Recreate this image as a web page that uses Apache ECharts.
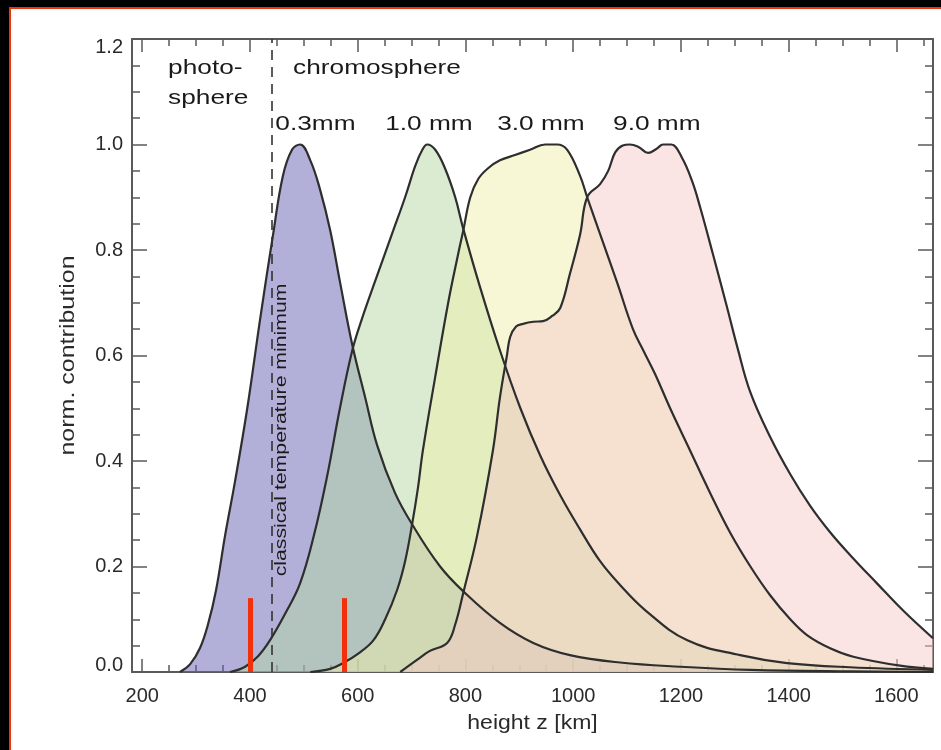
<!DOCTYPE html>
<html>
<head>
<meta charset="utf-8">
<script src="https://cdn.jsdelivr.net/npm/echarts@6/dist/echarts.min.js"></script>
<style>
  html, body { margin: 0; padding: 0; background: #000; }
  #frame {
    position: absolute; left: 9px; top: 7px; width: 932px; height: 743px;
    background: #fff; border-left: 2px solid #ee3311; border-top: 2px solid #ee3311;
    box-sizing: border-box;
  }
  #chart { position: absolute; left: 0; top: 0; width: 941px; height: 750px; }
</style>
</head>
<body>
<div id="frame"></div>
<div id="chart"></div>
<script>
// contribution functions, [height z in km, normalised contribution]
const band03 = [[270,0],[289,0.015],[307,0.045],[322,0.09],[337,0.155],[354,0.26],[372,0.36],[395,0.5],[419,0.67],[443,0.83],[461,0.94],[478,0.99],[493,1.0],[512,0.97],[530,0.915],[549,0.837],[567,0.74],[590,0.62],[614,0.52],[636,0.43],[669,0.34],[701,0.28],[753,0.2],[799,0.15],[864,0.093],[926,0.055],[994,0.032],[1087,0.018],[1199,0.01],[1329,0.004],[1514,0.001],[1668,0]];
const band10 = [[363,0],[391,0.01],[415,0.03],[437,0.06],[465,0.11],[493,0.168],[519,0.26],[543,0.37],[567,0.5],[590,0.61],[608,0.67],[632,0.74],[666,0.837],[688,0.9],[707,0.96],[720,0.99],[729,1.0],[744,0.99],[762,0.955],[781,0.9],[796,0.84],[827,0.73],[864,0.61],[902,0.5],[939,0.41],[976,0.335],[1013,0.27],[1050,0.21],[1087,0.165],[1134,0.117],[1212,0.06],[1310,0.032],[1397,0.017],[1514,0.009],[1668,0.004]];
const band30 = [[512,0],[549,0.006],[573,0.017],[601,0.035],[629,0.06],[651,0.1],[673,0.155],[688,0.21],[701,0.28],[712,0.35],[721,0.42],[744,0.56],[768,0.7],[786,0.79],[796,0.837],[809,0.9],[824,0.935],[842,0.955],[864,0.97],[892,0.98],[920,0.99],[948,1.0],[970,1.0],[989,0.99],[1013,0.94],[1026,0.9],[1050,0.83],[1082,0.737],[1111,0.65],[1130,0.61],[1152,0.565],[1180,0.5],[1217,0.42],[1254,0.34],[1291,0.265],[1329,0.2],[1366,0.145],[1403,0.1],[1434,0.07],[1477,0.045],[1520,0.029],[1607,0.012],[1668,0.006]];
const band90 = [[679,0],[710,0.023],[734,0.04],[766,0.055],[781,0.09],[796,0.15],[822,0.26],[851,0.42],[864,0.52],[877,0.6],[883,0.635],[894,0.655],[907,0.66],[926,0.664],[944,0.665],[961,0.675],[976,0.69],[994,0.755],[1013,0.83],[1026,0.9],[1050,0.925],[1065,0.95],[1078,0.985],[1092,0.998],[1105,1.0],[1122,0.995],[1139,0.984],[1155,0.992],[1167,1.0],[1182,1.0],[1202,0.975],[1221,0.93],[1236,0.88],[1260,0.79],[1286,0.69],[1305,0.615],[1329,0.53],[1366,0.445],[1403,0.375],[1440,0.315],[1477,0.265],[1514,0.222],[1564,0.168],[1613,0.116],[1668,0.064]];

const bandNames = ['0.3mm', '1.0 mm', '3.0 mm', '9.0 mm'];
const xTicks = [200, 400, 600, 800, 1000, 1200, 1400, 1600];
const tempMinZ = 440;          // classical temperature minimum
const redMarksZ = [400, 575];
const redMarkTop = 0.14;

const X_MIN = 181, X_MAX = 1668;
const GRID = { left: 132, right: 8, top: 39, bottom: 78 };
const AXIS_COLOR = '#5a5a5a';
const LINE_COLOR = '#2e2e2e';
const fills = ['rgb(101,95,177)', 'rgb(181,215,165)', 'rgb(239,239,171)', 'rgb(245,201,201)'];
const FONT = '"Liberation Sans", Arial, Helvetica, sans-serif';

// minor ticks every 50 km
const xMinor = [];
for (let z = 200; z <= 1650; z += 50) {
  if (z % 200 !== 0) xMinor.push(z);
}

const chart = echarts.init(document.getElementById('chart'));

function xAxisDef(pos, ticks, len, showLine, showLabel) {
  return {
    type: 'value', min: X_MIN, max: X_MAX, position: pos,
    axisLine: { show: showLine, onZero: false, lineStyle: { color: AXIS_COLOR, width: 2 } },
    axisTick: { show: true, inside: true, length: len, customValues: ticks,
                lineStyle: { color: AXIS_COLOR, width: 1.5 } },
    axisLabel: { show: showLabel, customValues: ticks, margin: 14, fontSize: 20,
                 fontFamily: FONT, color: '#2a2a2a', formatter: function (v) { return String(v); } },
    splitLine: { show: false }
  };
}

function yAxisDef(pos, showLabel) {
  return {
    type: 'value', min: 0, max: 1.2, interval: 0.2, position: pos,
    axisLine: { show: true, onZero: false, lineStyle: { color: AXIS_COLOR, width: 2 } },
    axisTick: { show: true, inside: true, length: 15, lineStyle: { color: AXIS_COLOR, width: 1.5 } },
    minorTick: { show: true, splitNumber: 4, length: 8, lineStyle: { color: AXIS_COLOR, width: 1.5 } },
    splitLine: { show: false },
    axisLabel: {
      show: showLabel, margin: 9, fontSize: 20, fontFamily: FONT, color: '#2a2a2a',
      formatter: function (v) {
        const s = v.toFixed(1);
        if (v > 1.19) return '{top|' + s + '}';
        if (v < 0.01) return '{bot|' + s + '}';
        return s;
      },
      rich: {
        top: { padding: [16, 0, 0, 0], fontSize: 20, fontFamily: FONT, color: '#2a2a2a' },
        bot: { padding: [0, 0, 14, 0], fontSize: 20, fontFamily: FONT, color: '#2a2a2a' }
      }
    }
  };
}

const bands = [band03, band10, band30, band90];

// translucent fills first, outlines on top of all of them
const series = [];
bands.forEach(function (d, i) {
  series.push({
    name: bandNames[i], type: 'line', data: d,
    showSymbol: false, smooth: 0.4,
    lineStyle: { width: 0, opacity: 0 },
    areaStyle: { color: fills[i], opacity: 0.5 },
    z: 2
  });
});
bands.forEach(function (d, i) {
  series.push({
    name: bandNames[i], type: 'line', data: d,
    showSymbol: false, smooth: 0.4,
    lineStyle: { color: LINE_COLOR, width: 2.2 },
    z: 3
  });
});

// dashed temperature-minimum line and red markers
const markData = [[
  { coord: [tempMinZ, 0], lineStyle: { color: '#333', width: 1.6, type: [10, 7] } },
  { coord: [tempMinZ, 1.2] }
]];
redMarksZ.forEach(function (z) {
  markData.push([
    { coord: [z, 0], lineStyle: { color: '#f2300a', width: 5, type: 'solid' } },
    { coord: [z, redMarkTop] }
  ]);
});
series[series.length - 1].markLine = {
  silent: true, symbol: 'none', animation: false, label: { show: false }, data: markData
};

chart.setOption({
  animation: false,
  backgroundColor: 'transparent',
  grid: GRID,
  xAxis: [
    xAxisDef('bottom', xTicks, 13, true, true),
    xAxisDef('bottom', xMinor, 7, false, false),
    xAxisDef('top', xTicks, 13, true, false),
    xAxisDef('top', xMinor, 7, false, false)
  ],
  yAxis: [yAxisDef('left', true), yAxisDef('right', false)],
  series: series
});

// annotations placed in data coordinates
const notes = [
  { text: 'photo-', z: 248, v: 1.145, size: 21, sx: 1.25, align: 'left' },
  { text: 'sphere', z: 248, v: 1.088, size: 21, sx: 1.25, align: 'left' },
  { text: 'chromosphere', z: 480, v: 1.145, size: 21, sx: 1.25, align: 'left' },
  { text: '0.3mm', z: 447, v: 1.039, size: 21, sx: 1.25, align: 'left' },
  { text: '1.0 mm', z: 651, v: 1.039, size: 21, sx: 1.25, align: 'left' },
  { text: '3.0 mm', z: 859, v: 1.039, size: 21, sx: 1.25, align: 'left' },
  { text: '9.0 mm', z: 1074, v: 1.039, size: 21, sx: 1.25, align: 'left' },
  { text: 'classical temperature minimum', z: 458, v: 0.459, size: 17, sx: 1.25, align: 'center', rot: Math.PI / 2 }
];

const graphics = notes.map(function (n) {
  const p = chart.convertToPixel({ xAxisIndex: 0, yAxisIndex: 0 }, [n.z, n.v]);
  return {
    type: 'text', x: p[0], y: p[1], rotation: n.rot || 0, scaleX: n.sx, z: 20,
    style: { text: n.text, font: n.size + 'px ' + FONT, fill: '#1a1a1a',
             align: n.align, verticalAlign: 'middle', textAlign: n.align, textVerticalAlign: 'middle' }
  };
});

// axis titles
const gridMidX = GRID.left + (941 - GRID.left - GRID.right) / 2;
const gridMidY = GRID.top + (750 - GRID.top - GRID.bottom) / 2;
graphics.push({
  type: 'text', x: gridMidX, y: 723, scaleX: 1.15, z: 20,
  style: { text: 'height z [km]', font: '20px ' + FONT, fill: '#2a2a2a',
           align: 'center', verticalAlign: 'middle', textAlign: 'center', textVerticalAlign: 'middle' }
});
graphics.push({
  type: 'text', x: 68, y: gridMidY, rotation: Math.PI / 2, scaleX: 1.25, z: 20,
  style: { text: 'norm. contribution', font: '20px ' + FONT, fill: '#2a2a2a',
           align: 'center', verticalAlign: 'middle', textAlign: 'center', textVerticalAlign: 'middle' }
});

chart.setOption({ graphic: graphics });
</script>
</body>
</html>
